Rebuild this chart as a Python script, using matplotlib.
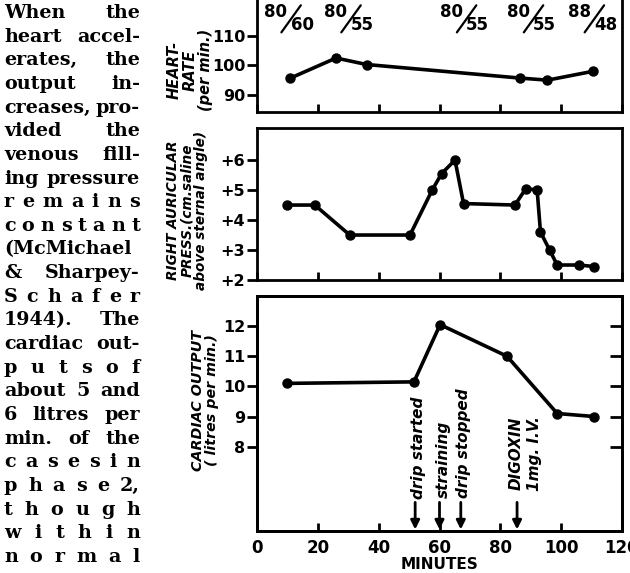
import matplotlib.pyplot as plt
from matplotlib.transforms import offset_copy

# heart rate (per min.)
hr_minutes = [11, 26, 36, 86.5, 95.5, 110.5]
heart_rate = [95.7, 102.5, 100.3, 95.7, 95.0, 98.0]

# right auricular pressure (cm. saline above sternal angle)
rap_minutes = [10, 19, 30.5, 50.3, 57.6, 60.7, 65.1, 67.9, 84.8, 88.4, 92.1,
               93.2, 96.2, 98.7, 105.8, 110.8]
rap_values = [4.5, 4.5, 3.5, 3.5, 5.0, 5.55, 6.0, 4.55, 4.5, 5.05, 5.0,
              3.6, 3.0, 2.5, 2.5, 2.45]

# cardiac output (litres per min.)
co_minutes = [10, 51.6, 60.2, 82.2, 98.7, 110.8]
co_values = [10.1, 10.15, 12.05, 11.0, 9.1, 9.0]

# blood pressure notes across the top
bp_minutes = [10.3, 30, 68, 90, 110]
bp_labels = ['80/60', '80/55', '80/55', '80/55', '88/48']

# events
arrow_minutes = [52, 60, 67, 85.5]
note_minutes = [53.2, 61.4, 67.8, 85.2, 91.2]
note_texts = ['drip started', 'straining', 'drip stopped', 'DIGOXIN', '1mg. I.V.']
note_bottoms = [6.25, 6.3, 6.3, 6.57, 6.53]

text_lines = ["When the", "heart accel-", "erates, the", "output in-",
              "creases, pro-", "vided the", "venous fill-", "ing pressure",
              "r e m a i n s", "c o n s t a n t", "(McMichael", "& Sharpey-",
              "S c h a f e r", "1944). The", "cardiac out-", "p u t s o f",
              "about 5 and", "6 litres per", "min. of the", "c a s e s i n",
              "p h a s e 2,", "t h o u g h", "w i t h i n", "n o r m a l"]

W, H = 630, 573
fig = plt.figure(figsize=(6.3, 5.73), dpi=100)

def box(top, bottom):
    return [257 / W, 1 - bottom / H, 365 / W, (bottom - top) / H]

ax1 = fig.add_axes(box(-6, 112))
ax2 = fig.add_axes(box(128, 280))
ax3 = fig.add_axes(box(296, 531))

line_kw = dict(color='black', lw=2.6, marker='o', ms=6.5, solid_joinstyle='round')
ax1.plot(hr_minutes, heart_rate, **line_kw)
ax2.plot(rap_minutes, rap_values, **line_kw)
ax3.plot(co_minutes, co_values, **line_kw)

ax1.set_ylim(84.2, 124.2)
ax2.set_ylim(2, 7.07)
ax3.set_ylim(5.2, 13.0)

ax1.set_yticks([90, 100, 110])
ax2.set_yticks([2, 3, 4, 5, 6])
ax2.set_yticklabels(['+2', '+3', '+4', '+5', '+6'])
ax3.set_yticks([8, 9, 10, 11, 12])

for ax in (ax1, ax2, ax3):
    ax.set_xlim(0, 120)
    ax.set_xticks([0, 20, 40, 60, 80, 100, 120])
    for s in ax.spines.values():
        s.set_linewidth(2.0)
    ax.tick_params(axis='x', direction='in', length=6, width=2, top=False)
    ax.tick_params(axis='y', direction='out', length=7, width=2, pad=1.5,
                   labelsize=11.5)
    for lab in ax.get_yticklabels():
        lab.set_fontweight('bold')
ax1.spines['top'].set_visible(False)
ax1.tick_params(axis='x', labelbottom=False)
ax2.tick_params(axis='x', labelbottom=False)

# inward ticks on the right of the cardiac output panel
ax3r = ax3.twinx()
ax3r.set_ylim(ax3.get_ylim())
ax3r.set_yticks([8, 9, 10, 11, 12])
ax3r.tick_params(axis='y', direction='in', length=9, width=2, labelright=False)
for s in ax3r.spines.values():
    s.set_linewidth(2.0)

ax3.tick_params(axis='x', pad=6)
ax3.set_xticklabels(['0', '20', '40', '60', '80', '100', '120'],
                    fontdict=dict(weight='bold', size=12))
ax3.set_xlabel('MINUTES', fontsize=11, weight='bold', labelpad=0)

# y labels
lab_kw = dict(rotation=90, ha='center', va='center', multialignment='center',
              weight='bold', style='italic')
fig.text(190 / W, 1 - 70 / H, 'HEART-\nRATE\n(per min.)', fontsize=10.5,
         linespacing=1.05, **lab_kw)
fig.text(187 / W, 1 - 210 / H, 'RIGHT AURICULAR\nPRESS.(cm.saline\nabove sternal angle)',
         fontsize=9.8, linespacing=1.0, **lab_kw)
fig.text(205 / W, 1 - 400 / H, 'CARDIAC OUTPUT\n( litres per min.)', fontsize=10.3,
         linespacing=1.05, **lab_kw)

# blood pressures: numerator, long slash, denominator
slash_top = offset_copy(ax1.transData, fig=fig, x=9, y=9.5, units='points')
for bx, lab in zip(bp_minutes, bp_labels):
    num, den = lab.split('/')
    ax1.annotate(num, (bx, 115.9), xytext=(-9, 4.5), textcoords='offset points',
                 ha='center', va='center', fontsize=12, weight='bold')
    ax1.annotate(den, (bx, 115.9), xytext=(10, -5), textcoords='offset points',
                 ha='center', va='center', fontsize=12, weight='bold')
    ax1.annotate('', xy=(bx, 115.9), xycoords=slash_top,
                 xytext=(-14, -19.5), textcoords='offset points',
                 arrowprops=dict(arrowstyle='-', lw=1.6, color='black',
                                 shrinkA=0, shrinkB=0))

# event arrows and notes
for ex in arrow_minutes:
    ax3.annotate('', xy=(ex, 5.25), xytext=(ex, 6.15),
                 arrowprops=dict(arrowstyle='-|>', color='black', lw=2,
                                 mutation_scale=13, shrinkA=0, shrinkB=0))
for nx, txt, nb in zip(note_minutes, note_texts, note_bottoms):
    ax3.text(nx, nb, txt, rotation=90, ha='center', va='bottom', fontsize=11,
             weight='bold', style='italic')

# left column of justified text
fig.canvas.draw()
r = fig.canvas.get_renderer()
text_kw = dict(family='DejaVu Serif', weight='bold', fontsize=13.8, va='baseline')
x0, x1 = 4, 140
for i, line in enumerate(text_lines):
    y = 1 - (18 + i * 23.65) / H
    tokens = line.split()
    if len(tokens) == 1:
        fig.text(x0 / W, y, line, **text_kw)
        continue
    widths = []
    for t in tokens:
        tt = fig.text(0, 0, t, **text_kw)
        widths.append(tt.get_window_extent(r).width)
        tt.remove()
    gap = max((x1 - x0 - sum(widths)) / (len(tokens) - 1), 3)
    x = x0
    for t, w in zip(tokens, widths):
        fig.text(x / W, y, t, **text_kw)
        x += w + gap

fig.savefig('out.png', dpi=100)
